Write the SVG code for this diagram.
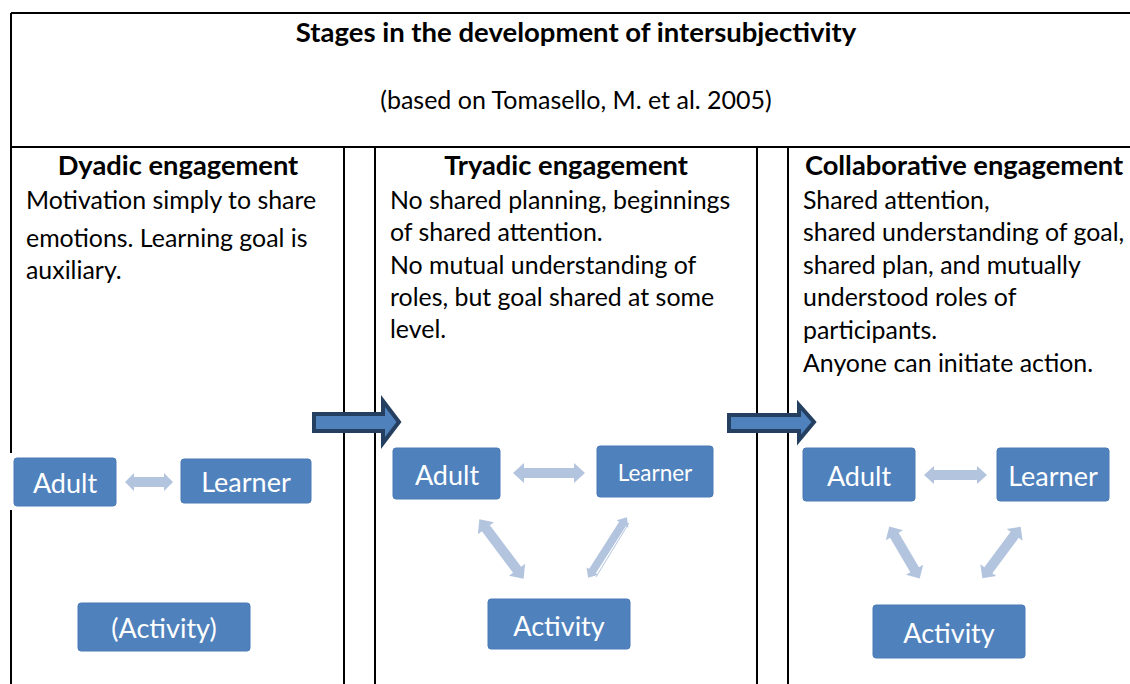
<svg xmlns="http://www.w3.org/2000/svg" width="1130" height="684" viewBox="0 0 1130 684">
<style>
.ln{stroke:#000;stroke-width:2;fill:none}
text{font-family:Lato,"Open Sans",sans-serif;fill:#000}
.t{font-size:27.5px;font-weight:bold;text-anchor:middle}
.s{font-size:25px;text-anchor:middle}
.h{font-size:27.3px;font-weight:bold;text-anchor:middle}
.b{font-size:24.9px}
.box{fill:#4F81BD;stroke:#4A7AB5;stroke-width:1}
.bt{fill:#fff;font-size:27px;text-anchor:middle;dominant-baseline:central}
.da{fill:#B3C4DE}
.big{fill:#4F81BD;stroke:#243F60;stroke-width:4;stroke-linejoin:miter}
</style>
<rect width="1130" height="684" fill="#fff"/>
<g id="table">
<path class="ln" d="M11 13H1130M11 147H1130M11 13V453M11 510V684M344 147V684M375 147V684M757 147V684M788 147V684"/>
</g>
<g id="header">
<text class="t" x="576" y="42">Stages in the development of intersubjectivity</text>
<text class="s" x="576" y="109">(based on Tomasello, M. et al. 2005)</text>
</g>
<g id="col1">
<text class="h" x="178" y="175">Dyadic engagement</text>
<text class="b" x="26" y="209">Motivation simply to share</text>
<text class="b" x="26" y="247">emotions. Learning goal is</text>
<text class="b" x="26" y="279">auxiliary.</text>
</g>
<g id="col2">
<text class="h" x="566" y="175">Tryadic engagement</text>
<text class="b" x="390" y="209">No shared planning, beginnings</text>
<text class="b" x="390" y="241">of shared attention.</text>
<text class="b" x="390" y="274">No mutual understanding of</text>
<text class="b" x="390" y="306">roles, but goal shared at some</text>
<text class="b" x="390" y="338">level.</text>
</g>
<g id="col3">
<text class="h" x="964" y="175">Collaborative engagement</text>
<text class="b" x="803" y="209">Shared attention,</text>
<text class="b" x="803" y="241">shared understanding of goal,</text>
<text class="b" x="803" y="274">shared plan, and mutually</text>
<text class="b" x="803" y="306">understood roles of</text>
<text class="b" x="803" y="339">participants.</text>
<text class="b" x="803" y="372">Anyone can initiate action.</text>
</g>
<g id="connectors">
<polygon class="big" points="314,414 383,414 383,401 399,422 383,443 383,431 314,431"/>
<polygon class="big" points="729,415 799,415 799,405 814,422 799,440 799,431 729,431"/>
<polygon class="da" points="125,482 134,473 134,477 164,477 164,473 173,482 164,491 164,487 134,487 134,491"/>
<polygon class="da" points="513,473 524,463 524,468 574,468 574,463 585,473 574,483 574,478 524,478 524,483"/>
<polygon class="da" points="924,475 934,466 934,470 977,470 977,466 987,475 977,484 977,480 934,480 934,484"/>
<g class="da">
<polygon transform="translate(501.5,549) rotate(53.2)" points="-37,0 -26,-10 -26,-5 26,-5 26,-10 37,0 26,10 26,5 -26,5 -26,10"/>
<polygon transform="translate(607.5,547.5) rotate(-57.4)" points="-36,0 -28,-7 -28,-4 28,-4 28,-7 36,0 28,7 28,4 -28,4 -28,7"/>
<polygon transform="translate(904.5,552.5) rotate(59.6)" points="-30,0 -20,-10 -20,-5 20,-5 20,-10 30,0 20,10 20,5 -20,5 -20,10"/>
<polygon transform="translate(1001.5,552.5) rotate(-53.3)" points="-32,0 -22,-10 -22,-5 22,-5 22,-10 32,0 22,10 22,5 -22,5 -22,10"/>
</g>
<line x1="629" y1="523" x2="596" y2="577" stroke="#B3C4DE" stroke-width="1"/>
</g>
<g id="n-adult1"><rect class="box" x="14" y="458" width="102" height="48" rx="3"/><text class="bt" x="65" y="482">Adult</text></g>
<g id="n-learner1"><rect class="box" x="181" y="459" width="130" height="44" rx="3"/><text class="bt" x="246" y="481">Learner</text></g>
<g id="n-activity1"><rect class="box" x="78" y="603" width="172" height="48" rx="3"/><text class="bt" x="164" y="627">(Activity)</text></g>
<g id="n-adult2"><rect class="box" x="393" y="448" width="107" height="51" rx="3"/><text class="bt" x="447" y="474">Adult</text></g>
<g id="n-learner2"><rect class="box" x="597" y="446" width="116" height="51" rx="3"/><text class="bt" x="655" y="472" style="font-size:22.5px">Learner</text></g>
<g id="n-activity2"><rect class="box" x="488" y="599" width="142" height="50" rx="3"/><text class="bt" x="559" y="625">Activity</text></g>
<g id="n-adult3"><rect class="box" x="803" y="448" width="112" height="53" rx="3"/><text class="bt" x="859" y="475">Adult</text></g>
<g id="n-learner3"><rect class="box" x="997" y="448" width="112" height="53" rx="3"/><text class="bt" x="1053" y="475">Learner</text></g>
<g id="n-activity3"><rect class="box" x="873" y="605" width="152" height="53" rx="3"/><text class="bt" x="949" y="632">Activity</text></g>
</svg>
